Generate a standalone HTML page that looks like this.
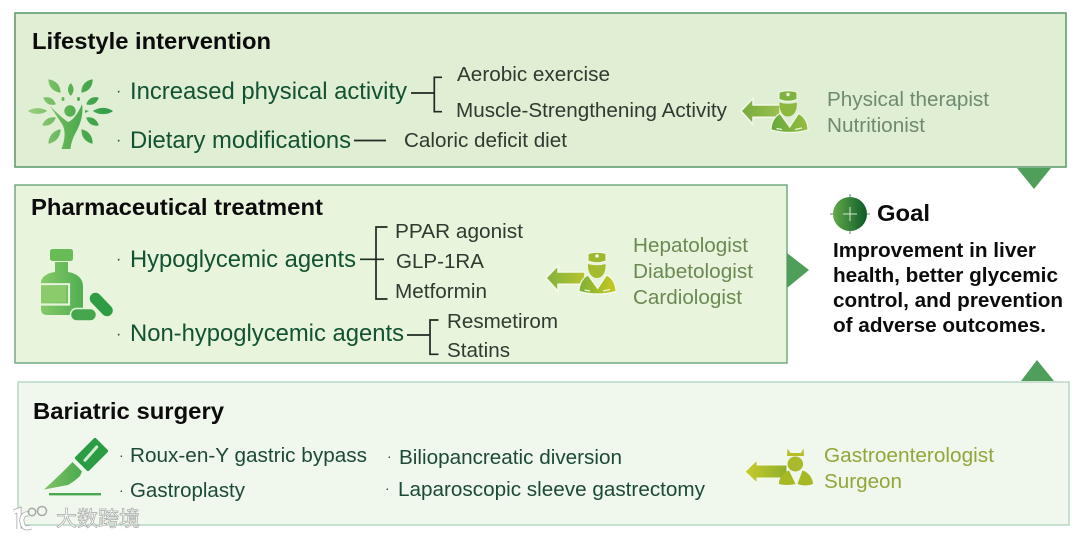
<!DOCTYPE html>
<html><head><meta charset="utf-8"><style>
html,body{margin:0;padding:0;background:#fff;width:1080px;height:538px;overflow:hidden}
svg{display:block}
text{font-family:"Liberation Sans","Noto Sans CJK SC",sans-serif}
.h{font-weight:bold;fill:#0c0c0c;font-size:23px}
.g{fill:#125232;font-size:24px}
.k{fill:#2f3a30;font-size:20.5px}
</style></head><body>
<svg width="1080" height="538" viewBox="0 0 1080 538" xmlns="http://www.w3.org/2000/svg">
<defs>
<linearGradient id="tree" gradientUnits="userSpaceOnUse" x1="29" y1="0" x2="112" y2="0"><stop offset="0" stop-color="#9bd07e"/><stop offset=".5" stop-color="#58b052"/><stop offset="1" stop-color="#2f9c48"/></linearGradient>
<linearGradient id="bot" gradientUnits="userSpaceOnUse" x1="41" y1="0" x2="112" y2="0"><stop offset="0" stop-color="#86c968"/><stop offset="1" stop-color="#2a9c42"/></linearGradient>
<linearGradient id="sc" gradientUnits="userSpaceOnUse" x1="44" y1="0" x2="108" y2="0"><stop offset="0" stop-color="#80c364"/><stop offset="1" stop-color="#259a42"/></linearGradient>
<linearGradient id="a1" x1="0" y1="0" x2="1" y2="0"><stop offset="0" stop-color="#74aa3c"/><stop offset="1" stop-color="#9cc050"/></linearGradient>
<linearGradient id="p1" x1="0" y1="0" x2="1" y2="0"><stop offset="0" stop-color="#66a83e"/><stop offset="1" stop-color="#96bc40"/></linearGradient>
<linearGradient id="a2" x1="0" y1="0" x2="1" y2="0"><stop offset="0" stop-color="#80b23c"/><stop offset="1" stop-color="#b8c430"/></linearGradient>
<linearGradient id="p2" x1="0" y1="0" x2="1" y2="0"><stop offset="0" stop-color="#7cb038"/><stop offset="1" stop-color="#c9c81e"/></linearGradient>
<linearGradient id="a3" x1="0" y1="0" x2="1" y2="0"><stop offset="0" stop-color="#c8cc2a"/><stop offset="1" stop-color="#8fae2c"/></linearGradient>
<linearGradient id="gc" x1="0" y1="0" x2="1" y2="0"><stop offset="0" stop-color="#62aa48"/><stop offset="1" stop-color="#0d5a2a"/></linearGradient>
</defs>

<!-- boxes -->
<rect x="15" y="13" width="1051" height="154" fill="#e0eed4" stroke="#5f9e70" stroke-width="1.6"/>
<rect x="15" y="185" width="772" height="178" fill="#e9f4dc" stroke="#6aa67c" stroke-width="1.4"/>
<rect x="18" y="382" width="1051" height="143" fill="#f0f7ec" stroke="#b4d4c0" stroke-width="1.4"/>

<!-- triangles -->
<polygon points="1017,168 1051,168 1034,189" fill="#4f9e5a"/>
<polygon points="787,253 809,270 787,288" fill="#4f9e5a"/>
<polygon points="1021,381 1054,381 1037,360" fill="#4f9e5a"/>

<!-- box 1 text -->
<text x="32" y="49" class="h" textLength="239" lengthAdjust="spacingAndGlyphs">Lifestyle intervention</text>
<text x="116" y="96" font-size="16" fill="#2c4a38">·</text>
<text x="116" y="145" font-size="16" fill="#2c4a38">·</text>
<text x="130" y="99" class="g" textLength="277" lengthAdjust="spacingAndGlyphs">Increased physical activity</text>
<text x="130" y="148" class="g" textLength="221" lengthAdjust="spacingAndGlyphs">Dietary modifications</text>
<text x="457" y="81" class="k" textLength="153" lengthAdjust="spacingAndGlyphs">Aerobic exercise</text>
<text x="456" y="117" class="k" textLength="271" lengthAdjust="spacingAndGlyphs">Muscle-Strengthening Activity</text>
<text x="404" y="147" class="k" textLength="163" lengthAdjust="spacingAndGlyphs">Caloric deficit diet</text>
<text x="827" y="106" font-size="20.500" fill="#6e8a70" textLength="162" lengthAdjust="spacingAndGlyphs">Physical therapist</text>
<text x="827" y="132" font-size="20.500" fill="#6e8a70" textLength="98" lengthAdjust="spacingAndGlyphs">Nutritionist</text>
<g fill="none" stroke="#1e2a22" stroke-width="1.700">
<path d="M411 93H434"/><path d="M442 77.300H434.300V111.700H442"/>
<path d="M354 140.500H386"/>
</g>

<!-- box 2 text -->
<text x="31" y="215" class="h" textLength="292" lengthAdjust="spacingAndGlyphs">Pharmaceutical treatment</text>
<text x="116" y="264" font-size="16" fill="#2c4a38">·</text>
<text x="116" y="339" font-size="16" fill="#2c4a38">·</text>
<text x="130" y="267" class="g" textLength="226" lengthAdjust="spacingAndGlyphs">Hypoglycemic agents</text>
<text x="130" y="341" class="g" textLength="274" lengthAdjust="spacingAndGlyphs">Non-hypoglycemic agents</text>
<text x="395" y="238" class="k" textLength="128" lengthAdjust="spacingAndGlyphs">PPAR agonist</text>
<text x="396" y="268" class="k" textLength="88" lengthAdjust="spacingAndGlyphs">GLP-1RA</text>
<text x="395" y="298" class="k" textLength="92" lengthAdjust="spacingAndGlyphs">Metformin</text>
<text x="447" y="328" class="k" textLength="111" lengthAdjust="spacingAndGlyphs">Resmetirom</text>
<text x="447" y="357" class="k" textLength="63" lengthAdjust="spacingAndGlyphs">Statins</text>
<text x="633" y="252" font-size="20.500" fill="#6a8a52" textLength="115" lengthAdjust="spacingAndGlyphs">Hepatologist</text>
<text x="633" y="278" font-size="20.500" fill="#6a8a52" textLength="120" lengthAdjust="spacingAndGlyphs">Diabetologist</text>
<text x="633" y="304" font-size="20.500" fill="#6a8a52" textLength="109" lengthAdjust="spacingAndGlyphs">Cardiologist</text>
<g fill="none" stroke="#1e2a22" stroke-width="1.700">
<path d="M360 259.300H384"/><path d="M387.500 227H376V299H387.500"/>
<path d="M407 335H430"/><path d="M438.500 320H430V354.300H438.500"/>
</g>

<!-- box 3 text -->
<text x="33" y="419" class="h" textLength="191" lengthAdjust="spacingAndGlyphs">Bariatric surgery</text>
<text x="119" y="460" font-size="14" fill="#2c4a38">·</text>
<text x="119" y="495" font-size="14" fill="#2c4a38">·</text>
<text x="387" y="461" font-size="14" fill="#2c4a38">·</text>
<text x="385" y="493" font-size="14" fill="#2c4a38">·</text>
<text x="130" y="462" font-size="20.500" fill="#1c4a36" textLength="237" lengthAdjust="spacingAndGlyphs">Roux-en-Y gastric bypass</text>
<text x="130" y="497" font-size="20.500" fill="#1c4a36" textLength="115" lengthAdjust="spacingAndGlyphs">Gastroplasty</text>
<text x="399" y="464" font-size="20.500" fill="#1c4a36" textLength="223" lengthAdjust="spacingAndGlyphs">Biliopancreatic diversion</text>
<text x="398" y="496" font-size="20.500" fill="#1c4a36" textLength="307" lengthAdjust="spacingAndGlyphs">Laparoscopic sleeve gastrectomy</text>
<text x="824" y="462" font-size="20.500" fill="#93a63a" textLength="170" lengthAdjust="spacingAndGlyphs">Gastroenterologist</text>
<text x="824" y="488" font-size="20.500" fill="#93a63a" textLength="78" lengthAdjust="spacingAndGlyphs">Surgeon</text>

<!-- goal -->
<circle cx="850" cy="214" r="17" fill="url(#gc)"/>
<path d="M850 194V197M850 231V234M830 214H833M867 214H870" stroke="#5f8a5f" stroke-width="1"/>
<path d="M850 207V221M843 214H857" stroke="#d5e8d0" stroke-width="1"/>
<text x="877" y="221" class="h" textLength="53" lengthAdjust="spacingAndGlyphs">Goal</text>
<g font-size="20" font-weight="bold" fill="#0c0c0c">
<text x="833" y="257" textLength="203" lengthAdjust="spacingAndGlyphs">Improvement in liver</text>
<text x="833" y="282" textLength="225" lengthAdjust="spacingAndGlyphs">health, better glycemic</text>
<text x="833" y="307" textLength="230" lengthAdjust="spacingAndGlyphs">control, and prevention</text>
<text x="833" y="332" textLength="213" lengthAdjust="spacingAndGlyphs">of adverse outcomes.</text>
</g>

<!-- tree icon -->
<g fill="url(#tree)">
<g stroke="url(#tree)" stroke-width="1.300" stroke-linejoin="round">
<path d="M49 80Q59 82 60 92Q50 90 49 80Z"/>
<path d="M70.700 84Q75 89.500 70.700 95Q66.500 89.500 70.700 84Z"/>
<path d="M92 80Q91.600 89.800 82 92Q82.400 82.200 92 80Z"/>
<path d="M44 98Q52 96.600 55 104Q47 105.400 44 98Z"/>
<path d="M98 98Q95 105.400 87 104Q90 96.600 98 98Z"/>
<path d="M29 111Q37.500 106.500 46 111Q37.500 115.500 29 111Z"/>
<path d="M112 111Q103 106 94 111Q103 116 112 111Z"/>
<path d="M43 125Q51.500 125.800 55 118Q46.500 117.200 43 125Z"/>
<path d="M98 125Q95.200 117.300 87 118Q89.800 125.700 98 125Z"/>
<path d="M49 143Q59 140.400 60 130Q50 132.600 49 143Z"/>
<path d="M92 143Q91.700 132.800 82 130Q82.300 140.200 92 143Z"/>
</g>
<circle cx="70" cy="111" r="5.700"/>
<ellipse cx="63" cy="99" rx="1.500" ry="2"/><ellipse cx="78.500" cy="99" rx="1.500" ry="2"/>
<path d="M85 110L89 111L85 113Z"/>
<path d="M50 106C56 112 62 118 68 122C72 121 78 114 82 104C84 116 79 127 75 134C72 140 71 144 70.500 149H61.500C65 140 66 130 62 124C58 118 54 112 50 106Z"/>
</g>

<!-- pill bottle icon -->
<rect x="50" y="249" width="23" height="12" rx="2.500" fill="#68bc56"/>
<path d="M55 262H68V272C76 273 83 278 83 286V309C83 313 81 315 77 315H47C43 315 41 313 41 309V283C41 277 47 273 55 272Z" fill="url(#bot)"/>
<rect x="41" y="286" width="25.500" height="16.500" fill="#8ccb6c"/>
<path d="M41 284.200H69V304.500H41" fill="none" stroke="#e6f3da" stroke-width="2.200"/>
<rect x="70.500" y="308.500" width="26" height="12.500" rx="6.250" fill="#45a64e" stroke="#e9f4dc" stroke-width="1.500"/>
<line x1="95.500" y1="298.500" x2="107" y2="310.500" stroke="#2e9c42" stroke-width="11.500" stroke-linecap="round"/>

<!-- scalpel icon -->
<polygon points="95,440 106,451 88,469 77,458" fill="#2a9c44" stroke="#2a9c44" stroke-width="4" stroke-linejoin="round"/>
<path d="M96.700 447L85 460.300" stroke="#d5ebcf" stroke-width="3" stroke-linecap="round"/>
<path d="M72.500 462L82 471.500L80 476Q75 481 68 485L44 489.500Q60 475 72.500 462Z" fill="url(#sc)"/>
<rect x="49" y="493" width="52" height="2.400" fill="#4aa850"/>

<!-- doctor 1 -->
<polygon points="741,111 753,98.500 753,105 780,105 780,117.300 753,117.300 753,124.300" fill="url(#a1)" stroke="#f2f8ea" stroke-width="1.500"/>
<g>
<path d="M771 130C771 122 775 116 780 113.500L789.700 127L798.500 113.500C804 116 808 122 808 130Q790 135 771 130Z" fill="url(#p1)" stroke="#f2f8ea" stroke-width="1.200"/>
<path d="M779 99.500V93C779 90.500 797 90 797 93V99.500Q788 103 779 99.500Z" fill="#7fb23e" stroke="#f2f8ea" stroke-width="1"/>
<path d="M779.500 102.500Q788 105 796.700 102.500C797.500 110 794 116.500 788 116.500C782 116.500 779 110 779.500 102.500Z" fill="#8cb840"/>
<circle cx="788" cy="94.500" r="1.700" fill="#f2f8ea"/>
<path d="M776.500 128.500L782 129.500M795 129.500L802 128" stroke="#eef6e2" stroke-width="1.200"/>
</g>

<!-- doctor 2 -->
<polygon points="546,278 558,265.500 558,272 585,272 585,284.300 558,284.300 558,291.300" fill="url(#a2)" stroke="#f5faec" stroke-width="1.500"/>
<g transform="translate(-192,161.500)">
<path d="M771 130C771 122 775 116 780 113.500L789.700 127L798.500 113.500C804 116 808 122 808 130Q790 135 771 130Z" fill="url(#p2)" stroke="#f5faec" stroke-width="1.200"/>
<path d="M780 99.500V93C780 90.500 798 90 798 93V99.500Q789 103 780 99.500Z" fill="#9fb92f" stroke="#f5faec" stroke-width="1"/>
<path d="M780 102.500Q789 105 797.500 102.500C798 110 795 116.500 789 116.500C783 116.500 779.500 110 780 102.500Z" fill="#a6bc30"/>
<circle cx="789" cy="94.500" r="1.700" fill="#f5faec"/>
<path d="M776.500 128.500L782 129.500M795 129.500L802 128" stroke="#eef6e2" stroke-width="1.200"/>
</g>

<!-- doctor 3 -->
<polygon points="745,471.700 757,460 757,465 787,465 787,478 757,478 757,483" fill="url(#a3)" stroke="#f8fbee" stroke-width="1"/>
<path d="M779 484C779 477 784 472 789 470.500L795.500 484Q786 486 779 484ZM797.500 484L802.500 470.500C808 472 813 478 813 484Q805 487 797.500 484Z" fill="#a6b824"/>
<path d="M787.500 448.500L790.500 453L801 453L803.500 448.500L804 456H787Z" fill="#b6bf2a"/>
<ellipse cx="795.300" cy="464" rx="7.800" ry="7.500" fill="#a9bb2c"/>

<!-- watermark -->
<g>
<path d="M14 512L19 510V529" fill="none" stroke="#a6aaa6" stroke-width="5"/>
<path d="M14 512L19 510V529" fill="none" stroke="#fff" stroke-width="3.400"/>
<path d="M29 514C24 513 21 517 22 522C23 528 26 529 31 527" fill="none" stroke="#a6aaa6" stroke-width="5"/>
<path d="M29 514C24 513 21 517 22 522C23 528 26 529 31 527" fill="none" stroke="#fff" stroke-width="3.400"/>
<circle cx="32" cy="512" r="3.700" fill="none" stroke="#a6aaa6" stroke-width="1.500"/>
<circle cx="42" cy="511" r="4.500" fill="none" stroke="#a6aaa6" stroke-width="1.500"/>
<text x="56" y="526" font-size="21" fill="#fff" stroke="#a6aaa6" stroke-width=".7" textLength="84" lengthAdjust="spacingAndGlyphs">大数跨境</text>
</g>
</svg>
</body></html>
